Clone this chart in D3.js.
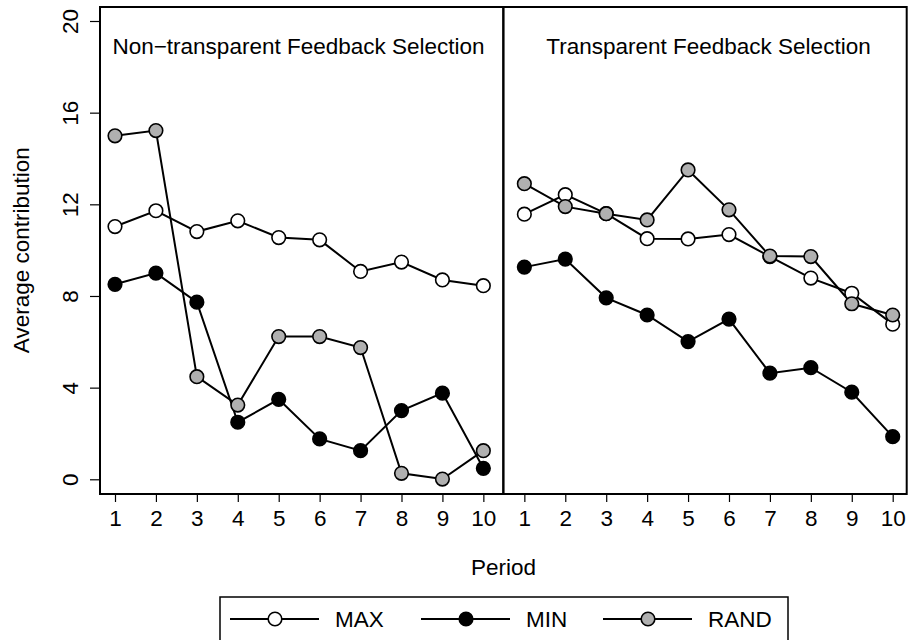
<!DOCTYPE html>
<html>
<head>
<meta charset="utf-8">
<script src="https://cdn.jsdelivr.net/npm/d3@7"></script>
<style>
  body { margin: 0; background: #fff; }
  svg { display: block; font-family: "Liberation Sans", Arial, sans-serif; }
</style>
</head>
<body>
<svg class="chart" width="909" height="640"></svg>
<script>
// data
var periods = [1, 2, 3, 4, 5, 6, 7, 8, 9, 10]
var panelTitles = ["Non\u2212transparent Feedback Selection", "Transparent Feedback Selection"]
var seriesNames = ["MAX", "MIN", "RAND"]
var yTicks = [0, 4, 8, 12, 16, 20]

var maxNonTransparent = [11.03, 11.72, 10.81, 11.28, 10.55, 10.45, 9.07, 9.48, 8.70, 8.45]
var minNonTransparent = [8.51, 9.00, 7.73, 2.49, 3.49, 1.76, 1.25, 3.00, 3.76, 0.48]
var randNonTransparent = [14.99, 15.22, 4.48, 3.24, 6.23, 6.23, 5.75, 0.26, 0.01, 1.25]

var maxTransparent = [11.57, 12.42, 11.59, 10.50, 10.49, 10.68, 9.72, 8.78, 8.12, 6.77]
var minTransparent = [9.26, 9.61, 7.92, 7.17, 6.01, 6.99, 4.63, 4.87, 3.80, 1.86]
var randTransparent = [12.90, 11.90, 11.59, 11.32, 13.50, 11.76, 9.74, 9.72, 7.66, 7.17]

var fills = {"MAX": "#ffffff", "MIN": "#000000", "RAND": "#b0b0b0"}

var panels = [
    {title: panelTitles[0], series: {"MAX": maxNonTransparent, "MIN": minNonTransparent, "RAND": randNonTransparent}},
    {title: panelTitles[1], series: {"MAX": maxTransparent, "MIN": minTransparent, "RAND": randTransparent}}
]

var fontSize = "22.5px"
var margin = {left: 100, top: 7, right: 2.3}
var plotBottom = 494
var panelWidth = (909 - margin.left - margin.right) / 2
var svg = d3.select(".chart")

var yScale = d3.scaleLinear()
    .domain([0, 20])
    .range([479.3, 21])

// y axis, labels turned on their side
svg.append("g")
    .attr("class", "y axis")
    .attr("transform", "translate(" + margin.left + ",0)")
    .call(d3.axisLeft(yScale).tickValues(yTicks).tickSize(10).tickPadding(0).tickFormat(d3.format("d")))
    .call(g => g.select(".domain").remove())
    .call(g => g.selectAll("line").attr("stroke", "#000").attr("stroke-width", 1.2))
    .call(g => g.selectAll("text")
        .attr("transform", "rotate(-90)")
        .attr("x", 0)
        .attr("y", -22)
        .attr("dy", 0)
        .attr("text-anchor", "middle")
        .attr("font-size", fontSize)
        .attr("font-family", "Liberation Sans, Arial, sans-serif")
        .attr("fill", "#000"))

svg.append("text")
    .attr("transform", "translate(29," + yScale(10) + ") rotate(-90)")
    .attr("text-anchor", "middle")
    .attr("font-size", fontSize)
    .text("Average contribution")

var line = d3.line()

panels.forEach(function(panel, i) {
    var x0 = margin.left + i * panelWidth
    // tick offsets differ a little per panel in the source
    var pad = i == 0 ? [15, 20] : [21, 14]
    var xScale = d3.scaleLinear()
        .domain([1, 10])
        .range([x0 + pad[0], x0 + panelWidth - pad[1]])

    var g = svg.append("g").attr("class", "panel")

    g.append("g")
        .attr("class", "x axis")
        .attr("transform", "translate(0," + plotBottom + ")")
        .call(d3.axisBottom(xScale).tickValues(periods).tickSize(8).tickPadding(8).tickFormat(d3.format("d")))
        .call(g => g.select(".domain").remove())
        .call(g => g.selectAll("line").attr("stroke", "#000").attr("stroke-width", 1.2))
        .call(g => g.selectAll("text")
            .attr("font-size", fontSize)
            .attr("font-family", "Liberation Sans, Arial, sans-serif")
            .attr("fill", "#000"))

    g.append("text")
        .attr("x", i == 0 ? 298.5 : 708.5)
        .attr("y", 54)
        .attr("text-anchor", "middle")
        .attr("font-size", fontSize)
        .text(panel.title)

    seriesNames.forEach(function(name) {
        var values = panel.series[name]
        var pts = periods.map((p, k) => [xScale(p), yScale(values[k])])
        g.append("path")
            .attr("d", line(pts))
            .attr("fill", "none")
            .attr("stroke", "#000")
            .attr("stroke-width", 2)
    })

    seriesNames.forEach(function(name) {
        var values = panel.series[name]
        g.append("g").selectAll("circle")
            .data(periods)
            .enter().append("circle")
            .attr("cx", d => xScale(d))
            .attr("cy", (d, k) => yScale(values[k]))
            .attr("r", 6.8)
            .attr("fill", fills[name])
            .attr("stroke", "#000")
            .attr("stroke-width", 1.6)
    })

    g.append("rect")
        .attr("x", x0)
        .attr("y", margin.top)
        .attr("width", panelWidth)
        .attr("height", plotBottom - margin.top)
        .attr("fill", "none")
        .attr("stroke", "#000")
        .attr("stroke-width", 2)
})

svg.append("text")
    .attr("x", 503.5)
    .attr("y", 575)
    .attr("text-anchor", "middle")
    .attr("font-size", fontSize)
    .text("Period")

// legend
var legend = svg.append("g").attr("class", "legend")
legend.append("rect")
    .attr("x", 220)
    .attr("y", 597)
    .attr("width", 568)
    .attr("height", 60)
    .attr("fill", "none")
    .attr("stroke", "#000")
    .attr("stroke-width", 1.5)

var legendX = d3.scalePoint().domain(seriesNames).range([230, 603])
seriesNames.forEach(function(name) {
    var lx = legendX(name) + (name == "MIN" ? 4.5 : 0)
    var item = legend.append("g").attr("transform", "translate(" + lx + ",619)")
    item.append("line")
        .attr("x1", 0).attr("x2", 89)
        .attr("stroke", "#000").attr("stroke-width", 2)
    item.append("circle")
        .attr("cx", 45).attr("r", 6.8)
        .attr("fill", fills[name])
        .attr("stroke", "#000").attr("stroke-width", 1.6)
    item.append("text")
        .attr("x", 105).attr("y", 8)
        .attr("font-size", fontSize)
        .text(name)
})
</script>
</body>
</html>
